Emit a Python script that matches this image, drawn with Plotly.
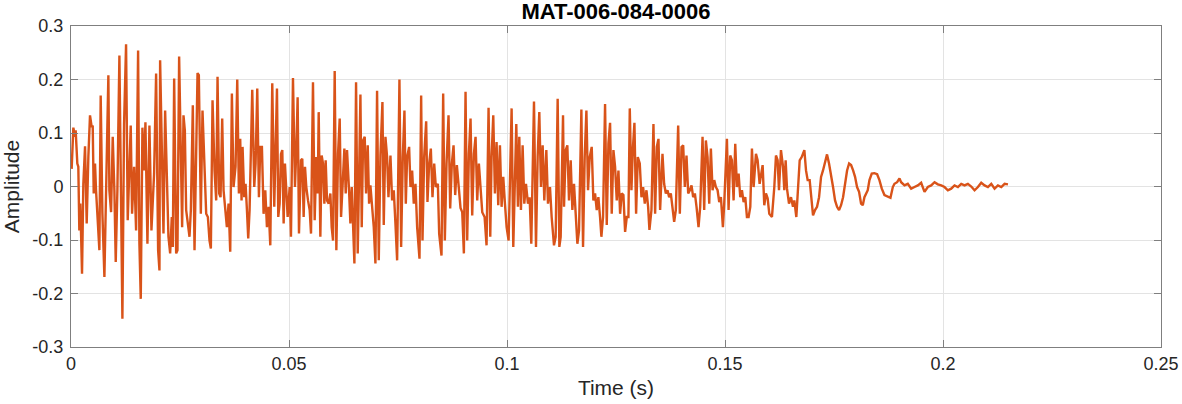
import plotly.graph_objects as go

# Time (ms) and amplitude (extrema / turning points)
time_ms = [
0.15,0.54,0.92,1.07,1.45,1.68,1.91,2.14,2.53,2.83,3.22,3.60,3.98,4.36,4.75,4.98,5.21,5.51,5.74,6.05,
6.51,6.81,7.20,7.66,8.19,8.57,8.80,9.19,9.57,9.95,10.26,10.64,11.10,11.41,11.79,12.17,12.63,13.01,13.40,13.70,
14.01,14.47,14.93,15.39,15.69,16.00,16.38,16.77,17.07,17.53,17.99,18.45,19.06,19.52,19.98,20.29,
20.44,20.82,21.21,21.59,21.97,22.35,22.74,23.12,23.35,23.66,24.12,24.42,24.80,25.19,25.49,25.80,26.11,26.41,26.72,27.18,
27.49,27.94,28.33,28.71,29.02,29.32,29.63,29.78,30.16,30.62,31.01,31.39,31.77,32.08,32.46,32.92,33.30,33.61,33.99,34.30,
34.68,34.99,35.37,35.75,36.14,36.52,36.90,37.28,37.74,38.13,38.51,38.81,39.12,39.35,39.73,40.04,40.35,40.65,40.96,41.57,
42.03,42.34,42.72,43.10,
43.41,43.79,44.17,44.56,44.94,45.32,45.71,46.16,46.62,46.93,47.24,47.54,47.85,48.16,48.46,48.77,49.07,49.38,49.69,50.15,
50.45,50.91,51.37,51.68,51.98,52.29,52.75,53.05,53.36,53.67,53.97,54.36,54.74,55.05,55.50,55.89,56.27,56.58,56.81,57.19,
57.49,57.80,58.11,58.41,58.72,59.10,59.49,59.79,60.10,60.48,60.86,61.25,61.63,61.94,62.32,62.70,63.01,63.31,63.77,64.08,
64.39,64.69,65.00,65.38,65.76,66.15,66.38,
66.68,66.99,67.37,67.68,68.06,68.37,68.67,69.06,69.44,69.82,70.20,70.59,70.97,71.43,71.73,72.12,72.50,72.81,73.27,73.65,
74.03,74.41,74.80,75.33,75.72,76.10,76.48,76.79,77.09,77.55,77.86,78.24,78.62,79.01,79.39,79.93,80.31,80.62,81.00,81.46,
81.76,82.15,82.53,82.91,83.30,83.68,84.14,84.44,84.98,85.36,85.74,86.13,86.59,86.97,87.35,87.74,88.12,88.50,88.96,89.34,
89.73,90.11,90.49,90.87,91.26,91.64,92.02,92.41,92.79,93.17,93.55,93.94,94.32,94.86,95.31,95.77,96.16,96.46,96.85,97.23,
97.61,97.99,98.38,98.76,99.14,99.53,99.91,100.37,101.06,101.44,101.82,102.13,102.51,102.82,103.20,103.58,103.97,104.35,104.81,105.19,
105.57,106.19,106.65,107.03,107.41,107.79,108.18,108.56,109.02,109.40,109.86,110.24,110.78,111.16,111.62,112.01,
112.31,112.85,113.08,113.46,113.84,114.22,114.61,114.99,115.37,115.76,116.14,116.52,117.06,117.44,117.82,118.21,118.59,118.97,119.43,119.81,
120.20,120.58,120.96,121.34,121.65,122.03,122.49,122.88,123.26,123.64,124.02,124.41,124.79,125.17,125.56,125.94,126.32,126.70,127.09,127.47,
127.85,128.16,128.54,128.85,129.23,129.61,130.00,130.45,130.84,131.22,131.60,131.99,132.37,132.67,133.13,133.59,133.97,134.36,134.74,135.12,
135.66,136.04,136.43,136.81,137.19,137.57,137.96,138.34,138.72,139.26,139.64,140.03,140.41,140.79,141.17,141.56,141.94,142.32,142.70,143.09,
143.47,143.93,144.31,144.85,145.23,145.61,146.00,146.38,146.76,147.15,147.53,147.91,148.30,148.68,149.06,149.52,149.82,150.44,150.82,151.20,
151.58,151.97,152.35,152.73,153.12,153.50,153.88,154.27,154.65,155.03,155.41,155.80,156.18,156.56,157.10,157.48,157.94,158.25,
158.63,159.01,159.39,159.78,160.16,160.77,161.31,161.69,162.07,162.38,162.84,163.30,163.60,163.91,164.22,164.68,165.14,165.59,165.90,166.36,
166.82,167.13,167.59,168.20,168.58,168.96,169.42,169.73,170.19,170.65,171.11,171.57,172.03,172.48,172.94,173.40,173.86,174.32,174.78,175.24,
175.70,176.16,176.62,177.08,177.54,178.00,178.46,178.92,179.38,179.83,180.29,180.75,181.21,
181.60,181.98,182.74,183.13,183.66,184.27,184.89,185.42,185.96,186.57,187.34,187.95,188.49,188.87,189.48,190.02,190.40,191.17,191.93,192.70,
193.46,194.23,194.99,195.76,196.52,197.29,198.06,198.82,199.59,200.35,201.12,201.88,202.65,203.42,204.18,204.95,205.71,206.48,207.24,208.01,
208.77,209.54,210.30,211.07,211.83,212.60,213.37,214.13,214.90,
]

amplitude = [
0.033,0.110,0.093,0.105,0.043,0.037,-0.082,-0.032,-0.163,0.005,0.075,-0.069,0.055,0.133,0.111,0.114,-0.013,0.043,-0.007,-0.044,
-0.119,0.170,-0.050,-0.169,0.077,0.208,-0.007,-0.048,0.093,-0.007,-0.141,-0.007,0.245,0.018,-0.247,0.117,0.266,-0.063,0.037,0.114,
-0.051,0.037,-0.082,0.254,-0.107,-0.210,0.110,0.030,0.120,-0.107,0.114,-0.082,0.024,0.211,-0.119,-0.157,
0.236,0.093,-0.088,0.142,0.030,-0.094,-0.125,-0.057,-0.113,0.202,-0.125,-0.119,0.243,0.018,-0.076,0.133,0.105,-0.044,-0.069,-0.094,
-0.044,0.152,-0.119,0.030,0.212,0.208,0.055,-0.051,0.142,0.024,-0.051,-0.057,-0.101,-0.116,0.161,0.030,-0.026,0.205,-0.013,-0.020,
0.127,-0.007,-0.038,-0.076,-0.032,-0.122,0.174,-0.001,0.037,0.200,-0.013,0.089,-0.026,0.074,-0.020,0.005,-0.044,-0.097,-0.044,0.181,
-0.001,0.043,0.183,-0.020,
0.074,0.074,-0.051,-0.007,-0.076,-0.038,-0.110,0.193,-0.038,0.049,0.183,-0.057,-0.032,0.061,0.068,-0.069,0.043,-0.007,-0.057,-0.001,
-0.094,0.203,-0.001,0.068,0.167,-0.088,0.049,0.052,-0.057,0.037,-0.001,-0.026,-0.044,-0.088,0.195,-0.063,0.055,-0.013,0.139,-0.094,
0.058,0.043,-0.032,0.049,-0.026,-0.032,-0.013,-0.076,-0.101,0.216,-0.119,0.061,0.127,-0.057,0.024,0.071,-0.013,0.068,-0.007,-0.069,
-0.001,-0.082,-0.144,0.195,-0.125,0.055,0.172,
-0.076,0.086,0.093,-0.013,0.077,-0.032,0.002,-0.032,-0.076,-0.144,0.179,-0.138,0.058,0.158,-0.072,0.093,0.055,-0.020,0.058,-0.026,
-0.007,-0.069,-0.138,0.200,-0.113,0.055,0.142,-0.032,0.055,0.074,-0.001,0.030,-0.032,0.005,-0.076,-0.135,0.170,-0.101,0.055,0.122,
-0.029,0.043,0.071,-0.020,0.043,-0.001,0.005,-0.088,-0.129,0.174,-0.101,0.043,0.133,-0.041,0.043,0.077,-0.016,0.040,-0.001,-0.040,
-0.048,-0.125,0.177,-0.101,0.061,0.127,-0.054,0.061,0.093,-0.026,0.043,0.005,-0.048,-0.057,-0.110,0.147,-0.094,0.055,0.133,-0.013,
0.083,-0.035,0.077,-0.038,0.018,-0.032,-0.076,-0.101,0.146,-0.113,0.055,0.117,-0.038,0.093,-0.044,0.077,-0.032,0.005,-0.032,-0.020,
-0.107,0.159,-0.113,0.055,0.139,-0.001,0.077,-0.026,0.068,-0.032,-0.001,-0.057,-0.110,-0.094,0.164,-0.113,
-0.094,0.133,-0.038,0.068,0.077,-0.026,0.049,-0.044,0.005,-0.051,-0.107,-0.082,0.144,-0.113,0.055,0.142,-0.007,0.055,0.074,-0.026,
-0.013,-0.044,-0.020,-0.057,-0.094,-0.057,0.154,-0.072,0.080,0.119,-0.051,0.068,0.037,-0.026,0.030,-0.051,-0.013,-0.016,-0.085,-0.057,
-0.057,0.146,-0.007,0.068,0.119,-0.051,0.055,0.043,-0.020,-0.001,-0.032,-0.007,-0.038,-0.081,-0.044,0.117,-0.051,0.074,0.089,-0.044,
0.061,0.005,-0.013,-0.007,-0.020,-0.013,-0.044,-0.066,-0.044,0.114,-0.051,0.074,0.077,-0.001,0.058,-0.013,-0.007,0.002,-0.020,-0.013,
-0.038,-0.076,-0.038,0.093,-0.044,0.086,0.055,-0.032,0.071,-0.007,0.012,-0.001,-0.007,-0.029,-0.020,-0.076,-0.032,0.089,-0.044,0.058,
0.049,-0.026,0.080,-0.001,0.024,-0.020,-0.007,-0.029,-0.020,-0.057,-0.057,-0.038,0.071,-0.001,0.061,0.049,0.005,0.024,
0.040,-0.035,-0.013,-0.022,-0.051,-0.057,-0.001,0.058,0.049,-0.007,0.068,0.037,-0.007,0.049,-0.004,-0.032,-0.020,-0.038,-0.026,-0.057,
0.024,0.049,0.055,0.068,0.030,0.012,0.012,-0.013,-0.054,-0.044,-0.038,-0.020,0.018,0.030,0.043,0.060,0.043,0.024,-0.001,-0.026,
-0.038,-0.044,-0.035,-0.020,0.005,0.030,0.043,0.040,0.030,0.018,-0.001,-0.010,-0.032,
-0.035,-0.020,-0.007,0.012,0.024,0.025,0.023,0.012,-0.004,-0.016,-0.018,-0.021,-0.001,0.005,0.008,0.015,0.008,0.002,0.005,-0.004,
-0.001,0.002,0.007,-0.010,-0.001,0.002,0.008,0.004,0.002,-0.001,-0.007,-0.004,0.002,-0.001,0.005,0.002,0.005,0.000,-0.007,-0.001,
0.007,0.002,-0.001,0.005,-0.004,0.002,-0.001,0.005,0.004,
]

x_tick_vals = [0, 0.05, 0.1, 0.15, 0.2, 0.25]
x_tick_text = ["0", "0.05", "0.1", "0.15", "0.2", "0.25"]
y_tick_vals = [-0.3, -0.2, -0.1, 0, 0.1, 0.2, 0.3]
y_tick_text = ["-0.3", "-0.2", "-0.1", "0", "0.1", "0.2", "0.3"]

time_s = [t / 1000.0 for t in time_ms]

FONT = "Liberation Sans, Arial, sans-serif"
AX = "#7f7f7f"
TXT = "#262626"

fig = go.Figure()
fig.add_trace(go.Scatter(x=time_s, y=amplitude, mode="lines",
                         line=dict(color="#D95319", width=2.4), showlegend=False))

axis_common = dict(showline=True, linecolor=AX, linewidth=1, mirror="ticks",
                   ticks="inside", ticklen=7, tickcolor=AX, tickwidth=1,
                   showgrid=True, gridcolor="#e3e3e3", gridwidth=1, zeroline=False,
                   automargin=False,
                   tickfont=dict(family=FONT, size=18, color=TXT))

fig.update_xaxes(range=[0, 0.25], tickvals=x_tick_vals, ticktext=x_tick_text,
                 title=dict(text="Time (s)", font=dict(family=FONT, size=21, color=TXT), standoff=7),
                 ticklabelstandoff=0, **axis_common)
fig.update_yaxes(range=[-0.3, 0.3], tickvals=y_tick_vals, ticktext=y_tick_text,
                 title=dict(text="Amplitude", font=dict(family=FONT, size=21, color=TXT), standoff=8),
                 ticklabelstandoff=3, **axis_common)

fig.update_layout(
    width=1182, height=404,
    margin=dict(l=71, r=21, t=26, b=57),
    paper_bgcolor="white", plot_bgcolor="white",
    title=dict(text="<b>MAT-006-084-0006</b>", x=0.5, xanchor="center",
               xref="paper", y=1 - 11 / 404, yref="container", yanchor="middle",
               font=dict(family=FONT, size=22, color="#000000")),
)

# remove the default page margin so the figure sits at the window's top-left corner
fig.write_html("out.html",
               config={"displayModeBar": False},
               post_script="document.body.style.margin='0';document.body.style.padding='0';")
